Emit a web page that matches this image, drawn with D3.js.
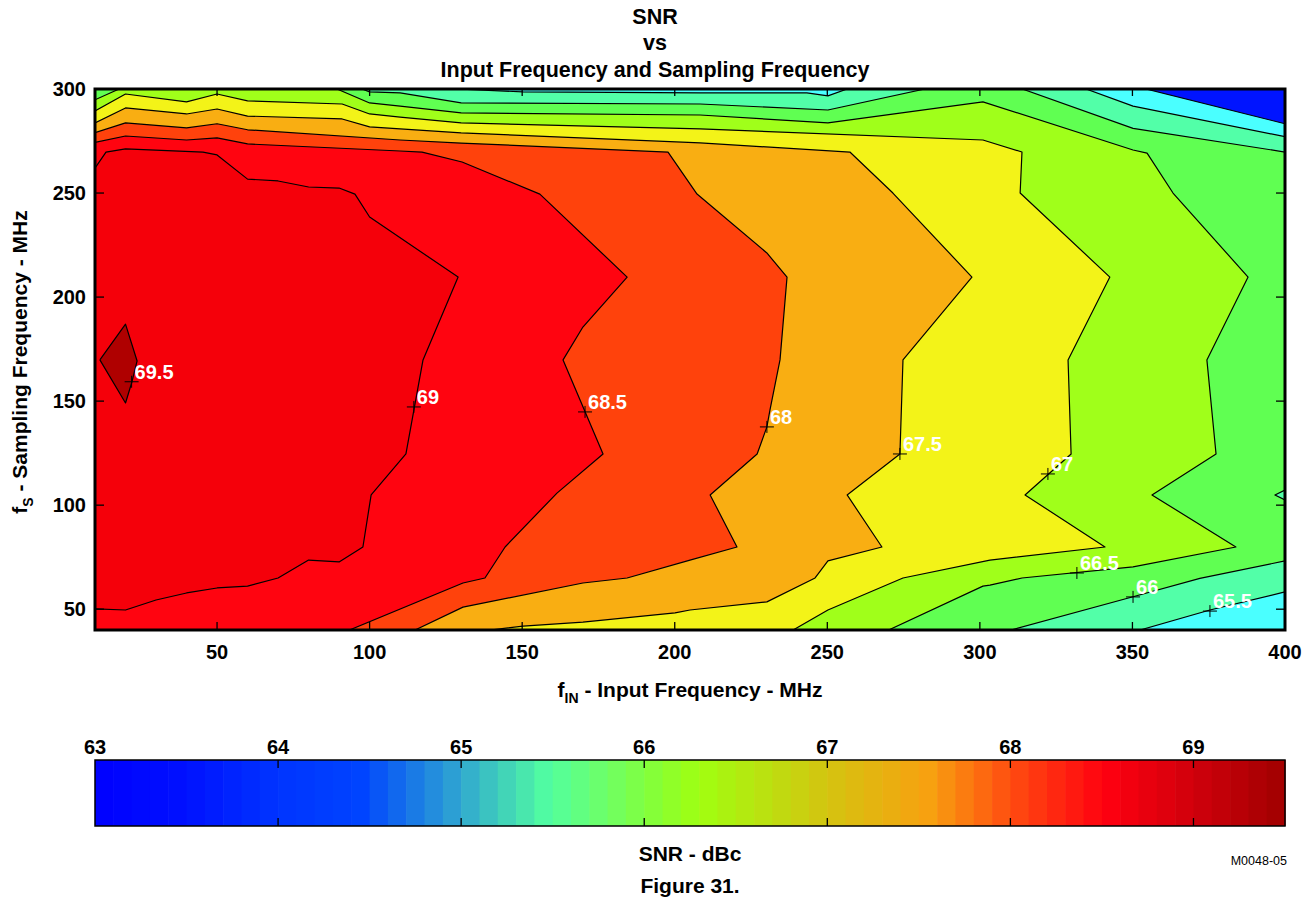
<!DOCTYPE html>
<html><head><meta charset="utf-8">
<script src="https://cdn.jsdelivr.net/npm/d3@7"></script>
<style>
body{margin:0;background:#fff;}
text{font-family:"Liberation Sans",Arial,sans-serif;font-weight:bold;fill:#000;}
</style></head><body>
<svg id="chart" width="1314" height="897"></svg>
<script>
// ---------------- data ----------------
const xTicks = [50,100,150,200,250,300,350,400];
const yTicks = [50,100,150,200,250,300];
const barTicks = [63,64,65,66,67,68,69];
const levels = [65,65.5,66,66.5,67,67.5,68,68.5,69,69.5];
const levelColors = ["#4affff","#52ffa8","#60ff52","#a0ff1a","#f3f318","#f9ae12","#ff420c","#ff0410","#f5000a","#af0000"];
const baseColor = "#0014ff";

// contour line pieces [fIN MHz, fS MHz], oriented so that higher SNR lies to the right-hand side
const c65 = [
  [[354.4,300],[400,283.3]]
];
const c655 = [
  [[128.6,300],[150.3,298.6],[208.3,298.1],[243.3,298.1],[250.2,296.7],[256.5,300]],
  [[334.8,300],[350.2,291.8],[400,277.1]],
  [[400,58.3],[375.4,49.6],[352.5,40]]
];
const c66 = [
  [[97.5,300],[100,298.6],[110,298.1],[130,293.3],[208.3,292.8],[250.2,289.9],[282,300]],
  [[313.9,300],[350.2,281.1],[400,269.7]],
  [[400,107.3],[396.7,104.9],[400,102.5]],
  [[400,73.2],[372.1,64.8],[350.2,56],[310.2,40]]
];
const c665 = [
  [[89.3,300],[100,293.3],[110,291.8],[130,288.5],[208.3,287.5],[250.2,283.7],[301,293.8],[350.2,270.7],[354.8,269.2],[363.3,250],[387.9,209.6],[374.4,169.8],[377.4,124.6],[356.4,104.9],[383.9,79.9],[350.2,70.3],[313.8,65],[303.3,61.6],[301,61.1],[270.1,40]],
  [[10,294.8],[17.9,300]]
];
const c67 = [
  [[10,289.4],[20,297.6],[40,293.8],[50,297.6],[60,294.3],[91,292.8],[100,288],[110,286.5],[130,283.7],[208.3,280.8],[301,275.5],[313.8,269.7],[313.2,250],[342.6,209.6],[328.9,169.8],[329.9,124.6],[314.8,104.9],[341,79.9],[303.3,73.6],[274.8,65],[250.2,49.6],[238.8,40]]
];
const c675 = [
  [[10,283.7],[20,290.9],[40,288],[50,290.4],[60,287],[91,285.6],[100,281.8],[110,280.8],[130,278.9],[208.3,274.1],[257.4,269.7],[271.5,250],[297.4,209.6],[274.8,169.8],[273.8,124.6],[256.5,104.9],[267.9,79.9],[250.2,73.2],[246,65],[230.2,53.5],[205,49.6],[200.1,48.2],[169.9,43.8],[150.3,41.9],[139.5,40]]
];
const c68 = [
  [[10,279],[20,283.7],[40,281.3],[50,283.3],[60,280.4],[110,275.5],[130,274],[197.8,269.7],[207.3,249.5],[230.2,221.2],[236.8,209.6],[234.5,169.8],[231.2,145.7],[230.2,137.6],[227,124.6],[211.6,104.9],[220.4,79.9],[205,73.6],[184.4,65],[169.9,62.6],[130.6,51],[114.9,40]]
];
const c685 = [
  [[10,274.3],[20,277.4],[40,275.5],[50,276.5],[60,273.6],[110,270.2],[117.2,269.7],[130.3,264.9],[155.8,249.5],[184.4,209.6],[169.9,185.6],[163.4,169.8],[176.5,124.6],[161.4,105.8],[144.4,79.9],[137.8,65],[130.6,62.6],[93.4,40]]
];
const c69 = [
  [[10,262],[13.6,269.7],[20,271.2],[45.4,269.7],[50,268.3],[60,256.7],[70,255.8],[80,252.9],[90,252.4],[95.2,249.5],[100,238.5],[129,209.6],[117.5,169.8],[111.9,124.6],[100.5,104.9],[97.8,79.9],[90,72.7],[80,73.6],[70,65],[60,61.1],[50,60.2],[40,57.8],[30,54.4],[20,49.6],[10,50.2]]
];
const c695 = [
  [[11.6,169.8],[20,187],[23.8,169.3],[22.1,159.2],[20,149.1],[11.6,169.8]]
];
const contourPieces = [c65,c655,c66,c665,c67,c675,c68,c685,c69,c695];

// contour labels: level text and the marked point on the line
const labelText = ["69.5","69","68.5","68","67.5","67","66.5","66","65.5"];
const labelAt = [[22,159.3],[114.5,147.2],[170.6,144.8],[230.2,137.6],[273.8,124.6],[322.3,115],[331.8,67.4],[350.2,55.9],[375.4,49.1]];

// colour bar
const barStops = [63,63.47,64,64.45,65,65.48,66,66.3,67,67.56,68,68.52,69,69.5];
const barColors = ["#0000ff","#0010ff","#0034ff","#0044ff","#30a8d0","#52ffa0","#80ff40","#a0ff10","#d4c410","#f8a010","#ff4c10","#ff0010","#d0000c","#a00000"];

// ---------------- drawing ----------------
const svg = d3.select("#chart");
const X0=10, X1=400, Y0=40, Y1=300;
const x = d3.scaleLinear().domain([X0,X1]).range([95,1285]);
const y = d3.scaleLinear().domain([Y0,Y1]).range([630,89]);

const W=X1-X0, H=Y1-Y0, P=2*(W+H);
function perim(p){
  const a=p[0], b=p[1], e=1e-6;
  if (Math.abs(b-Y1)<e) return a-X0;
  if (Math.abs(a-X1)<e) return W+(Y1-b);
  if (Math.abs(b-Y0)<e) return W+H+(X1-a);
  return 2*W+H+(b-Y0);
}
const corners=[[X0,Y1],[X1,Y1],[X1,Y0],[X0,Y0]].map(c=>({p:c,t:perim(c)}));
function isClosed(pc){const a=pc[0],b=pc[pc.length-1];return a[0]===b[0]&&a[1]===b[1];}
function buildRings(pieces){
  const rings=[];
  pieces.filter(isClosed).forEach(r=>rings.push(r.slice()));
  const open=pieces.filter(p=>!isClosed(p));
  const used=new Set();
  for(let i=0;i<open.length;i++){
    if(used.has(i)) continue;
    const ring=[]; let cur=i;
    for(let guard=0;guard<50;guard++){
      used.add(cur);
      ring.push(...open[cur]);
      const tEnd=perim(open[cur][open[cur].length-1]);
      let best=-1,bestD=Infinity;
      open.forEach((p,j)=>{
        if(used.has(j)&&j!==i) return;
        let d=(perim(p[0])-tEnd+P)%P;
        if(d<bestD){bestD=d;best=j;}
      });
      corners.map(c=>({p:c.p,d:(c.t-tEnd+P)%P}))
        .filter(c=>c.d>0&&c.d<bestD).sort((a,b)=>a.d-b.d)
        .forEach(c=>ring.push(c.p));
      if(best===i||best<0) break;
      cur=best;
    }
    rings.push(ring);
  }
  return rings;
}
const line = d3.line().x(d=>x(d[0])).y(d=>y(d[1]));

svg.append("defs").append("clipPath").attr("id","plotclip")
  .append("rect").attr("x",95).attr("y",89).attr("width",1190).attr("height",541);

const plot = svg.append("g").attr("clip-path","url(#plotclip)");
plot.append("rect").attr("x",x(X0)).attr("y",y(Y1)).attr("width",x(X1)-x(X0)).attr("height",y(Y0)-y(Y1)).attr("fill",baseColor);

contourPieces.forEach((pieces,k)=>{
  const rings=buildRings(pieces);
  plot.append("path")
    .attr("d",rings.map(r=>line(r)+"Z").join(""))
    .attr("fill",levelColors[k]).attr("stroke","none");
});
contourPieces.forEach(pieces=>{
  pieces.forEach(pc=>{
    plot.append("path").attr("d",line(pc)).attr("fill","none")
      .attr("stroke","#000").attr("stroke-width",1.2).attr("stroke-linejoin","round");
  });
});

// labels
labelText.forEach((t,i)=>{
  const px=x(labelAt[i][0]), py=y(labelAt[i][1]);
  plot.append("path").attr("d",`M${px-7},${py}H${px+7}M${px},${py-6}V${py+6}`)
    .attr("stroke","#000").attr("stroke-width",1);
  svg.append("text").attr("x",px+3).attr("y",py-3).text(t)
    .style("fill","#fff").attr("font-size",20);
});

// frame and ticks
const axes = svg.append("g");
axes.append("rect").attr("x",95).attr("y",89).attr("width",1190).attr("height",541)
  .attr("fill","none").attr("stroke","#000").attr("stroke-width",3);
xTicks.forEach(v=>{
  if(v===X1) return;
  axes.append("line").attr("x1",x(v)).attr("x2",x(v)).attr("y1",630).attr("y2",622).attr("stroke","#000").attr("stroke-width",1.3);
  axes.append("line").attr("x1",x(v)).attr("x2",x(v)).attr("y1",89).attr("y2",96).attr("stroke","#000").attr("stroke-width",1.3);
});
yTicks.forEach(v=>{
  if(v===Y1) return;
  axes.append("line").attr("x1",95).attr("x2",104).attr("y1",y(v)).attr("y2",y(v)).attr("stroke","#000").attr("stroke-width",1.3);
  axes.append("line").attr("x1",1285).attr("x2",1276).attr("y1",y(v)).attr("y2",y(v)).attr("stroke","#000").attr("stroke-width",1.3);
});
xTicks.forEach(v=>{
  axes.append("text").attr("x",x(v)).attr("y",659).attr("text-anchor","middle").attr("font-size",20).text(v);
});
yTicks.forEach(v=>{
  axes.append("text").attr("x",86).attr("y",y(v)+7).attr("text-anchor","end").attr("font-size",20).text(v);
});

// titles
const title=["SNR","vs","Input Frequency and Sampling Frequency"];
[24,50,77].forEach((ty,i)=>svg.append("text").attr("x",655).attr("y",ty).attr("text-anchor","middle").attr("font-size",21.5).text(title[i]));

const xl = svg.append("text").attr("x",690).attr("y",697).attr("text-anchor","middle").attr("font-size",21);
xl.append("tspan").text("f");
xl.append("tspan").attr("font-size",14).attr("dy",6).text("IN");
xl.append("tspan").attr("dy",-6).text(" - Input Frequency - MHz");

const yl = svg.append("text").attr("transform","translate(27,362) rotate(-90)").attr("text-anchor","middle").attr("font-size",21);
yl.append("tspan").text("f");
yl.append("tspan").attr("font-size",14).attr("dy",6).text("S");
yl.append("tspan").attr("dy",-6).text(" - Sampling Frequency - MHz");

// colour bar
const cb = d3.scaleLinear().domain([63,69.5]).range([95,1285]);
const cbColor = d3.scaleLinear().domain(barStops).range(barColors);
const bands = d3.range(0,65).map(i=>63+i*0.1);
svg.append("g").selectAll("rect").data(bands).join("rect")
  .attr("x",d=>cb(d)).attr("y",760).attr("width",d=>cb(Math.min(d+0.1,69.5))-cb(d)+0.6).attr("height",66)
  .attr("fill",d=>cbColor(d+0.05));
svg.append("rect").attr("x",95).attr("y",760).attr("width",1190).attr("height",66)
  .attr("fill","none").attr("stroke","#000").attr("stroke-width",1.5);
barTicks.forEach(v=>{
  if(v>63){
    svg.append("line").attr("x1",cb(v)).attr("x2",cb(v)).attr("y1",760).attr("y2",768).attr("stroke","#000").attr("stroke-width",1.3);
    svg.append("line").attr("x1",cb(v)).attr("x2",cb(v)).attr("y1",826).attr("y2",818).attr("stroke","#000").attr("stroke-width",1.3);
  }
  svg.append("text").attr("x",cb(v)).attr("y",754).attr("text-anchor","middle").attr("font-size",20).text(v);
});
svg.append("text").attr("x",690).attr("y",861).attr("text-anchor","middle").attr("font-size",21).text("SNR - dBc");
svg.append("text").attr("x",1287).attr("y",865).attr("text-anchor","end").attr("font-size",12.5).style("font-weight","normal").text("M0048-05");
svg.append("text").attr("x",690).attr("y",893).attr("text-anchor","middle").attr("font-size",21).text("Figure 31.");
</script>
</body></html>
